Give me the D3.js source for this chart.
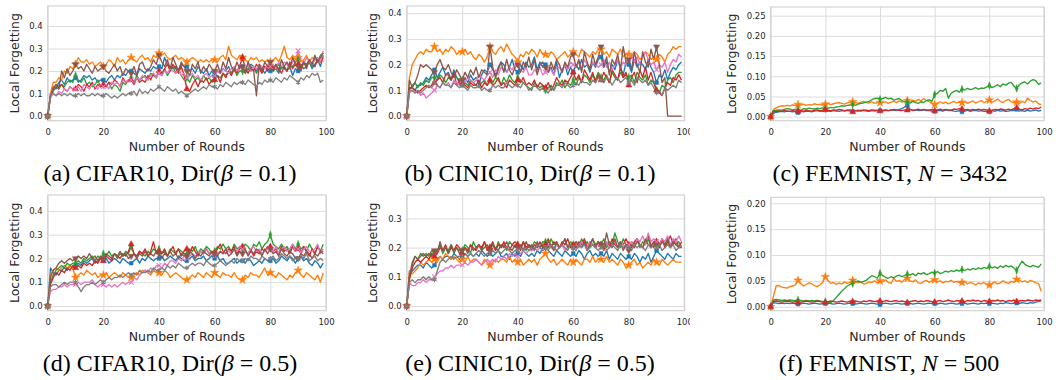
<!DOCTYPE html>
<html><head><meta charset="utf-8">
<script src="https://cdn.jsdelivr.net/npm/d3@7"></script>
<style>body{margin:0;background:#fff}svg{display:block}</style>
</head><body>
<svg id="c" width="1056" height="380"></svg>
<script>
// ---------------- DATA ----------------
const rounds = d3.range(0, 100);
const xTicks = [0, 20, 40, 60, 80, 100];
const yTicksCifar = [0, 0.1, 0.2, 0.3, 0.4];
const yTicksCinicB = [0, 0.1, 0.2, 0.3, 0.4];
const yTicksCinicE = [0, 0.1, 0.2, 0.3];
const yTicksFemC = [0, 0.05, 0.10, 0.15, 0.20, 0.25];
const yTicksFemF = [0, 0.05, 0.10, 0.15, 0.20];
const colors = {blue:"#1f77b4", orange:"#ff7f0e", green:"#2ca02c", red:"#d62728", pink:"#e377c2", brown:"#8c564b", gray:"#7f7f7f"};

// (a) CIFAR10 Dir 0.1
const a_blue = [0,.09,.13,.12,.15,.16,.14,.17,.15,.16, .17,.15,.16,.18,.17,.18,.16,.17,.15,.16, .16,.15,.17,.18,.16,.18,.17,.19,.18,.20, .20,.19,.18,.21,.20,.19,.21,.20,.22,.21, .22,.21,.26,.23,.22,.21,.22,.20,.23,.22, .22,.20,.21,.19,.22,.20,.19,.21,.18,.20, .18,.20,.19,.21,.20,.22,.19,.21,.20,.22, .22,.20,.21,.23,.22,.20,.22,.21,.19,.21, .20,.22,.21,.19,.22,.21,.20,.22,.18,.21, .20,.23,.21,.22,.24,.21,.23,.25,.22,.27];
const a_orange = [0,.10,.15,.15,.17,.16,.20,.19,.22,.21, .23,.26,.24,.24,.25,.23,.24,.22,.23,.24, .22,.23,.25,.24,.22,.26,.24,.25,.23,.25, .26,.25,.24,.26,.27,.25,.26,.24,.27,.26, .28,.27,.28,.26,.25,.26,.27,.25,.26,.25, .24,.25,.26,.25,.24,.25,.24,.25,.24,.25, .25,.24,.26,.27,.25,.31,.27,.26,.25,.27, .26,.25,.24,.26,.25,.26,.24,.25,.24,.25, .24,.25,.26,.24,.27,.31,.26,.25,.27,.25, .26,.24,.25,.27,.24,.26,.25,.24,.26,.24];
const a_green = [0,.08,.11,.13,.12,.14,.13,.15,.16,.15, .18,.16,.15,.17,.14,.15,.13,.14,.16,.13, .14,.13,.15,.12,.14,.13,.11,.15,.14,.16, .17,.15,.18,.16,.17,.18,.16,.19,.18,.17, .20,.19,.21,.18,.20,.22,.19,.21,.18,.16, .17,.15,.18,.16,.17,.15,.18,.16,.17,.15, .16,.18,.17,.19,.18,.20,.19,.21,.18,.20, .20,.19,.21,.20,.22,.19,.21,.20,.22,.21, .22,.20,.21,.23,.21,.22,.20,.23,.22,.24, .25,.22,.24,.23,.25,.22,.26,.24,.27,.28];
const a_red = [0,.09,.12,.14,.13,.14,.12,.11,.13,.12, .12,.14,.13,.11,.14,.13,.15,.12,.14,.13, .14,.13,.15,.14,.16,.15,.13,.17,.15,.16, .16,.14,.17,.15,.16,.15,.18,.16,.19,.17, .20,.18,.21,.23,.20,.23,.21,.19,.22,.18, .12,.11,.14,.16,.13,.16,.15,.17,.14,.16, .16,.18,.15,.19,.17,.20,.18,.21,.19,.22, .26,.21,.19,.22,.20,.23,.21,.19,.22,.20, .22,.20,.23,.21,.19,.22,.20,.24,.21,.23, .23,.21,.24,.22,.25,.23,.22,.25,.24,.26];
const a_pink = [0,.08,.10,.09,.11,.10,.12,.11,.13,.12, .12,.13,.11,.14,.13,.12,.14,.13,.12,.14, .13,.14,.12,.15,.14,.15,.13,.16,.15,.16, .16,.15,.17,.16,.18,.17,.16,.18,.19,.17, .19,.18,.20,.19,.21,.20,.19,.21,.18,.19, .17,.18,.19,.17,.18,.16,.18,.19,.17,.18, .18,.20,.19,.21,.20,.19,.21,.22,.20,.21, .22,.21,.23,.20,.22,.21,.23,.22,.21,.23, .22,.23,.21,.24,.22,.24,.23,.21,.24,.25, .29,.25,.23,.26,.24,.23,.25,.26,.24,.29];
const a_brown = [0,.09,.12,.14,.12,.20,.17,.21,.18,.20, .23,.21,.22,.20,.23,.21,.19,.22,.20,.21, .22,.20,.19,.21,.23,.20,.22,.18,.21,.20, .19,.22,.18,.23,.24,.21,.20,.22,.25,.23, .27,.24,.22,.25,.21,.26,.23,.20,.24,.22, .20,.18,.23,.21,.24,.19,.22,.20,.23,.21, .20,.23,.19,.24,.21,.26,.22,.20,.24,.21, .22,.19,.24,.21,.20,.09,.23,.20,.24,.22, .24,.21,.23,.20,.25,.22,.24,.21,.26,.23, .22,.20,.24,.21,.25,.23,.27,.24,.26,.28];
const a_gray = [0,.10,.10,.09,.10,.09,.10,.09,.10,.09, .09,.10,.09,.10,.09,.09,.10,.09,.10,.09, .09,.10,.09,.08,.09,.08,.09,.10,.09,.10, .10,.11,.09,.12,.10,.11,.10,.12,.11,.12, .13,.12,.11,.13,.12,.11,.12,.10,.11,.10, .09,.10,.11,.12,.11,.12,.13,.12,.14,.13, .13,.12,.14,.13,.15,.14,.13,.15,.14,.15, .15,.14,.16,.15,.14,.13,.15,.14,.16,.15, .16,.15,.17,.16,.15,.17,.16,.18,.17,.16, .15,.17,.16,.18,.17,.19,.18,.19,.15,.16];

// (b) CINIC10 Dir 0.1
const b_blue = [0,.11,.11,.10,.12,.12,.13,.15,.14,.16, .18,.15,.17,.19,.16,.17,.14,.18,.15,.13, .12,.15,.13,.16,.14,.15,.12,.16,.18,.17, .20,.18,.16,.19,.21,.20,.17,.19,.22,.18, .17,.20,.18,.21,.19,.20,.23,.18,.21,.19, .20,.17,.19,.16,.21,.15,.18,.20,.16,.19, .17,.20,.18,.22,.19,.20,.17,.21,.19,.22, .23,.19,.21,.17,.20,.18,.22,.19,.16,.21, .20,.17,.22,.19,.21,.20,.18,.22,.19,.17, .13,.16,.15,.18,.14,.17,.19,.18,.20,.21];
const b_orange = [0,.15,.20,.22,.24,.25,.24,.26,.25,.25, .27,.25,.26,.24,.26,.25,.27,.26,.24,.25, .25,.26,.24,.25,.23,.22,.24,.23,.21,.23, .27,.25,.24,.26,.27,.25,.28,.26,.24,.23, .21,.24,.23,.25,.24,.26,.25,.23,.26,.24, .24,.23,.25,.24,.22,.23,.24,.25,.23,.24, .25,.24,.23,.26,.25,.24,.23,.25,.24,.26, .26,.24,.25,.23,.26,.25,.24,.26,.23,.24, .24,.23,.25,.24,.22,.23,.25,.24,.22,.23, .22,.24,.23,.21,.24,.25,.27,.26,.27,.27];
const b_green = [0,.10,.12,.13,.11,.13,.12,.14,.13,.15, .15,.14,.16,.15,.13,.15,.14,.16,.15,.14, .14,.13,.12,.14,.13,.12,.11,.13,.14,.12, .14,.13,.15,.14,.12,.15,.13,.16,.14,.13, .15,.14,.13,.12,.11,.10,.13,.12,.11,.12, .10,.11,.12,.10,.13,.12,.14,.11,.13,.12, .14,.12,.15,.13,.16,.15,.13,.16,.14,.17, .15,.14,.16,.13,.17,.15,.14,.17,.15,.16, .15,.16,.13,.17,.15,.14,.16,.12,.14,.13, .10,.09,.12,.11,.14,.15,.13,.16,.17,.17];
const b_red = [0,.11,.11,.10,.09,.10,.11,.12,.11,.12, .13,.14,.15,.13,.16,.16,.14,.17,.12,.14, .13,.12,.11,.13,.12,.12,.14,.11,.13,.12, .14,.12,.13,.15,.12,.13,.11,.14,.13,.12, .14,.13,.15,.12,.13,.12,.14,.11,.13,.12, .11,.13,.10,.12,.15,.13,.12,.14,.13,.15, .17,.14,.16,.13,.18,.16,.14,.17,.13,.16, .14,.17,.15,.13,.18,.16,.14,.19,.15,.17, .12,.15,.17,.13,.18,.15,.19,.14,.17,.13, .10,.09,.08,.11,.13,.12,.15,.14,.16,.14];
const b_pink = [0,.09,.10,.09,.10,.08,.09,.07,.08,.09, .10,.12,.11,.13,.12,.13,.11,.14,.13,.12, .14,.13,.15,.14,.13,.14,.16,.15,.14,.16, .17,.15,.18,.16,.19,.18,.17,.19,.18,.20, .20,.18,.17,.19,.16,.16,.18,.17,.19,.16, .17,.19,.18,.16,.19,.19,.17,.20,.18,.21, .20,.19,.21,.18,.22,.20,.19,.21,.20,.19, .20,.22,.19,.21,.18,.20,.22,.19,.21,.20, .22,.24,.21,.23,.20,.23,.25,.22,.20,.21, .18,.20,.19,.21,.17,.20,.22,.21,.24,.23];
const b_brown = [0,.14,.11,.13,.16,.20,.19,.20,.19,.18, .17,.20,.22,.19,.18,.20,.17,.15,.18,.16, .14,.17,.15,.18,.16,.19,.15,.18,.17,.16, .27,.19,.15,.18,.21,.17,.22,.18,.16,.19, .20,.17,.21,.19,.23,.18,.22,.16,.20,.21, .19,.17,.21,.18,.22,.20,.17,.21,.19,.23, .24,.19,.22,.17,.25,.21,.18,.24,.20,.23, .27,.19,.23,.16,.22,.20,.24,.18,.27,.21, .22,.18,.25,.20,.17,.25,.21,.19,.26,.22, .27,.20,.13,.15,0,0,0,0,0,0];
const b_gray = [0,.10,.10,.09,.10,.09,.10,.11,.12,.11, .13,.12,.11,.13,.12,.12,.11,.13,.12,.11, .12,.11,.10,.12,.11,.11,.12,.10,.11,.10, .10,.12,.11,.12,.11,.11,.13,.12,.11,.12, .12,.11,.13,.12,.10,.11,.12,.11,.10,.11, .10,.09,.11,.10,.12,.12,.11,.13,.12,.11, .12,.13,.12,.14,.13,.13,.12,.14,.13,.15, .14,.13,.15,.14,.12,.14,.15,.13,.14,.15, .13,.14,.12,.15,.14,.13,.14,.12,.13,.11, .09,.10,.08,.11,.10,.11,.12,.11,.14,.13];

// (c) FEMNIST N=3432
const c_blue = [0,.008,.011,.012,.013,.012,.014,.013,.012,.013, .010,.013,.012,.014,.013,.012,.014,.015,.013,.014, .017,.014,.013,.015,.014,.013,.015,.014,.016,.014, .013,.015,.014,.016,.015,.014,.013,.015,.014,.016, .015,.014,.016,.015,.017,.016,.015,.018,.020,.024, .028,.018,.016,.017,.015,.016,.017,.015,.016,.014, .013,.015,.016,.014,.017,.015,.016,.014,.013,.015, .012,.014,.016,.013,.015,.016,.014,.015,.013,.014, .012,.015,.013,.016,.014,.015,.013,.014,.016,.015, .018,.014,.015,.013,.016,.014,.015,.017,.014,.016];
const c_orange = [0,.018,.022,.025,.027,.026,.028,.027,.029,.028, .030,.029,.031,.028,.030,.029,.032,.030,.031,.029, .031,.033,.030,.032,.034,.035,.033,.031,.034,.036, .037,.035,.033,.036,.038,.035,.034,.037,.033,.035, .035,.034,.037,.033,.036,.038,.035,.039,.036,.038, .040,.037,.041,.038,.043,.039,.045,.040,.037,.034, .030,.034,.037,.033,.036,.032,.035,.038,.034,.036, .035,.038,.033,.036,.039,.034,.037,.040,.035,.038, .041,.036,.039,.044,.038,.035,.040,.043,.037,.034, .036,.033,.038,.035,.046,.040,.036,.039,.032,.030];
const c_green = [0,.015,.016,.017,.016,.018,.020,.019,.017,.018, .018,.016,.020,.019,.021,.020,.019,.021,.020,.022, .020,.021,.023,.022,.024,.025,.027,.026,.028,.029, .030,.028,.031,.033,.034,.036,.038,.042,.045,.046, .043,.045,.048,.044,.046,.041,.043,.045,.040,.037, .036,.034,.038,.035,.033,.037,.035,.040,.042,.038, .055,.058,.065,.063,.070,.046,.058,.062,.065,.061, .068,.066,.070,.067,.069,.072,.068,.071,.070,.073, .077,.072,.075,.079,.074,.081,.078,.083,.085,.076, .070,.079,.084,.086,.081,.088,.092,.089,.080,.084];
const c_red = [0,.012,.013,.014,.013,.015,.014,.013,.015,.014, .013,.015,.014,.016,.015,.014,.016,.017,.015,.016, .017,.016,.015,.017,.016,.018,.017,.015,.016,.017, .012,.015,.016,.014,.017,.016,.015,.017,.016,.015, .014,.016,.017,.015,.016,.018,.017,.016,.015,.017, .016,.018,.015,.017,.019,.016,.018,.017,.016,.018, .015,.017,.019,.016,.018,.017,.016,.019,.018,.020, .019,.017,.018,.016,.018,.017,.019,.016,.018,.017, .014,.016,.018,.017,.019,.018,.016,.019,.017,.020, .022,.019,.017,.020,.018,.021,.019,.022,.020,.024];

// (d) CIFAR10 Dir 0.5
const d_blue = [0,.16,.14,.13,.15,.15,.16,.15,.17,.16, .17,.18,.17,.19,.18,.19,.20,.18,.19,.20, .19,.20,.18,.19,.20,.19,.18,.20,.19,.18, .18,.19,.20,.18,.20,.19,.21,.20,.19,.20, .20,.21,.19,.20,.21,.20,.19,.21,.20,.19, .19,.20,.21,.19,.20,.20,.21,.19,.20,.21, .20,.21,.19,.20,.18,.18,.19,.20,.18,.19, .19,.18,.20,.19,.17,.18,.19,.18,.20,.19, .19,.20,.18,.19,.21,.20,.19,.21,.20,.18, .20,.21,.19,.20,.18,.17,.19,.18,.16,.18];
const d_orange = [0,.13,.15,.16,.15,.16,.17,.16,.17,.16, .12,.13,.14,.13,.15,.14,.13,.14,.12,.13, .13,.14,.12,.13,.14,.13,.12,.14,.13,.12, .12,.13,.14,.13,.15,.15,.14,.13,.15,.14, .14,.13,.15,.14,.12,.13,.14,.13,.12,.11, .11,.12,.13,.12,.14,.13,.12,.14,.13,.12, .14,.13,.12,.14,.13,.13,.12,.14,.12,.11, .11,.13,.12,.14,.13,.13,.12,.14,.16,.13, .14,.13,.12,.14,.13,.12,.11,.13,.12,.14, .15,.13,.12,.14,.13,.12,.11,.13,.10,.14];
const d_green = [0,.10,.13,.15,.16,.17,.16,.18,.17,.18, .18,.19,.18,.20,.19,.20,.21,.19,.21,.20, .22,.21,.23,.21,.22,.20,.22,.21,.23,.22, .25,.22,.21,.23,.22,.21,.23,.22,.24,.23, .24,.22,.23,.21,.24,.23,.22,.24,.23,.22, .22,.24,.23,.25,.22,.24,.23,.25,.24,.22, .23,.25,.24,.26,.24,.25,.23,.26,.24,.25, .24,.26,.25,.23,.26,.25,.27,.24,.26,.27, .30,.26,.25,.24,.26,.24,.25,.23,.26,.24, .26,.24,.25,.23,.26,.24,.22,.25,.23,.26];
const d_red = [0,.09,.12,.14,.13,.15,.14,.16,.15,.17, .16,.17,.16,.18,.17,.18,.17,.19,.18,.20, .19,.21,.20,.19,.22,.21,.20,.22,.21,.23, .26,.22,.21,.23,.22,.24,.21,.23,.27,.22, .23,.22,.24,.21,.23,.25,.22,.24,.21,.23, .24,.22,.25,.23,.21,.23,.22,.24,.22,.23, .22,.24,.26,.23,.22,.24,.23,.25,.22,.24, .25,.23,.22,.24,.21,.23,.22,.24,.23,.25, .25,.23,.24,.22,.25,.23,.24,.22,.25,.23, .24,.22,.25,.23,.21,.24,.22,.25,.23,.23];
const d_pink = [0,.06,.07,.07,.08,.08,.09,.08,.09,.09, .09,.10,.09,.10,.10,.10,.11,.09,.08,.09, .09,.08,.09,.08,.09,.08,.09,.10,.09,.10, .10,.12,.11,.13,.14,.15,.14,.16,.15,.17, .17,.16,.18,.17,.19,.19,.18,.20,.19,.21, .20,.21,.22,.21,.22,.23,.22,.24,.22,.23, .21,.22,.23,.22,.24,.23,.22,.24,.23,.25, .24,.23,.22,.24,.25,.23,.24,.22,.23,.24, .24,.23,.25,.22,.24,.25,.23,.24,.26,.23, .24,.22,.24,.25,.23,.23,.24,.26,.22,.24];
const d_brown = [0,.12,.15,.16,.18,.19,.18,.19,.20,.19, .20,.21,.20,.21,.20,.22,.20,.21,.19,.21, .20,.22,.21,.20,.22,.21,.23,.21,.22,.20, .21,.22,.20,.22,.21,.23,.21,.22,.21,.23, .22,.20,.22,.21,.23,.21,.22,.20,.22,.21, .21,.23,.22,.20,.22,.21,.23,.22,.21,.23, .22,.21,.23,.22,.24,.21,.22,.24,.21,.23, .22,.24,.21,.23,.22,.24,.23,.21,.24,.22, .24,.22,.23,.21,.24,.22,.21,.23,.22,.20, .20,.22,.21,.23,.22,.20,.22,.21,.23,.22];
const d_gray = [0,.08,.09,.09,.08,.09,.10,.09,.10,.10, .10,.08,.06,.08,.09,.09,.10,.09,.10,.11, .10,.11,.12,.11,.12,.12,.13,.12,.13,.14, .13,.14,.13,.15,.14,.14,.15,.14,.16,.15, .15,.16,.15,.17,.16,.17,.16,.18,.17,.16, .16,.17,.18,.17,.18,.18,.17,.19,.18,.17, .17,.18,.19,.18,.17,.18,.19,.18,.20,.19, .19,.20,.19,.21,.20,.20,.19,.21,.20,.19, .20,.21,.19,.20,.22,.21,.20,.21,.19,.20, .20,.21,.20,.22,.19,.20,.21,.19,.20,.19];

// (e) CINIC10 Dir 0.5
const e_blue = [0,.12,.12,.13,.14,.14,.13,.15,.14,.13, .14,.16,.17,.16,.17,.17,.16,.18,.17,.16, .17,.18,.17,.18,.17,.18,.17,.19,.18,.17, .18,.17,.18,.19,.17,.17,.18,.16,.18,.17, .18,.17,.19,.18,.17,.18,.17,.19,.18,.20, .21,.19,.18,.17,.19,.18,.17,.19,.18,.17, .18,.17,.19,.18,.16,.18,.19,.17,.18,.17, .18,.17,.19,.16,.18,.17,.16,.18,.17,.16, .17,.16,.18,.17,.15,.17,.16,.18,.15,.17, .19,.18,.17,.16,.18,.17,.16,.18,.17,.17];
const e_orange = [0,.12,.11,.12,.13,.15,.14,.15,.16,.15, .16,.15,.17,.16,.18,.17,.16,.17,.16,.15, .16,.15,.17,.15,.16,.16,.15,.14,.16,.15, .14,.15,.16,.15,.16,.16,.15,.17,.15,.16, .15,.16,.14,.15,.16,.15,.16,.14,.16,.17, .18,.16,.15,.16,.14,.15,.16,.15,.14,.16, .15,.16,.15,.14,.16,.16,.15,.17,.15,.16, .16,.15,.17,.15,.16,.15,.14,.16,.15,.13, .14,.15,.16,.14,.15,.13,.14,.15,.14,.16, .15,.14,.16,.15,.14,.15,.16,.15,.15,.15];
const e_green = [0,.10,.14,.17,.16,.18,.17,.18,.17,.19, .18,.19,.21,.18,.20,.19,.21,.18,.20,.19, .19,.21,.20,.18,.22,.20,.21,.19,.22,.20, .20,.21,.19,.22,.20,.21,.19,.22,.21,.20, .21,.20,.22,.19,.21,.20,.22,.21,.20,.22, .22,.20,.23,.21,.22,.20,.21,.23,.20,.22, .21,.22,.20,.23,.21,.22,.20,.23,.21,.22, .21,.23,.20,.22,.21,.25,.22,.20,.23,.21, .20,.22,.21,.23,.20,.22,.21,.23,.20,.22, .22,.20,.23,.21,.22,.20,.23,.21,.22,.20];
const e_red = [0,.09,.13,.15,.16,.15,.16,.17,.16,.18, .17,.18,.20,.19,.21,.18,.20,.19,.21,.20, .18,.20,.19,.21,.20,.19,.21,.20,.22,.19, .20,.22,.19,.21,.20,.22,.20,.19,.21,.22, .21,.19,.22,.20,.21,.19,.21,.20,.22,.20, .21,.23,.20,.22,.21,.20,.22,.21,.23,.20, .21,.20,.22,.21,.23,.20,.22,.21,.20,.22, .21,.19,.22,.20,.23,.21,.20,.22,.21,.23, .21,.20,.22,.23,.21,.20,.22,.24,.21,.20, .22,.21,.23,.20,.22,.24,.21,.23,.20,.22];
const e_pink = [0,.08,.07,.07,.08,.08,.09,.08,.09,.09, .10,.11,.12,.12,.13,.13,.14,.13,.14,.14, .14,.15,.14,.15,.15,.16,.15,.14,.15,.16, .15,.16,.15,.17,.16,.17,.16,.18,.17,.18, .17,.18,.19,.18,.19,.19,.20,.19,.20,.19, .20,.21,.20,.19,.21,.20,.21,.19,.20,.21, .20,.21,.20,.22,.21,.20,.22,.21,.20,.22, .20,.21,.22,.20,.21,.22,.20,.22,.21,.20, .21,.22,.20,.23,.22,.24,.21,.25,.22,.23, .22,.21,.23,.22,.24,.21,.23,.22,.24,.22];
const e_brown = [0,.10,.15,.17,.16,.17,.18,.17,.18,.17, .19,.18,.22,.19,.20,.18,.21,.19,.20,.18, .19,.20,.18,.21,.19,.20,.21,.19,.20,.21, .19,.21,.20,.19,.21,.20,.22,.20,.19,.21, .20,.21,.19,.22,.20,.21,.19,.22,.20,.21, .20,.22,.21,.19,.22,.20,.21,.23,.20,.21, .20,.22,.21,.20,.22,.19,.21,.23,.20,.22, .21,.20,.25,.21,.20,.23,.20,.22,.19,.21, .19,.21,.20,.22,.21,.20,.23,.21,.20,.22, .21,.20,.22,.21,.23,.20,.22,.21,.20,.20];
const e_gray = [0,.08,.09,.08,.09,.09,.10,.09,.10,.09, .09,.12,.15,.16,.15,.16,.17,.16,.17,.17, .17,.18,.17,.18,.17,.18,.19,.18,.17,.18, .18,.19,.18,.19,.18,.19,.20,.19,.18,.19, .19,.20,.19,.20,.19,.20,.19,.21,.20,.19, .20,.19,.21,.20,.19,.20,.21,.20,.19,.21, .20,.19,.21,.20,.21,.19,.20,.21,.20,.19, .20,.21,.19,.20,.21,.20,.19,.21,.20,.21, .20,.19,.21,.20,.21,.20,.19,.21,.20,.21, .20,.21,.19,.20,.21,.20,.21,.19,.20,.21];

// (f) FEMNIST N=500
const f_blue = [0,.008,.007,.006,.007,.006,.007,.006,.007,.006, .005,.006,.007,.006,.005,.006,.007,.006,.005,.006, .006,.007,.006,.005,.006,.007,.006,.005,.006,.007, .006,.005,.006,.007,.006,.005,.006,.007,.006,.005, .004,.006,.007,.006,.005,.006,.007,.006,.005,.006, .006,.007,.005,.006,.007,.006,.005,.006,.007,.006, .006,.005,.007,.006,.005,.006,.007,.006,.005,.006, .006,.007,.005,.006,.007,.006,.005,.007,.006,.007, .006,.007,.006,.005,.007,.006,.008,.007,.006,.007, .007,.006,.008,.007,.006,.008,.007,.009,.010,.012];
const f_orange = [0,.020,.040,.041,.038,.037,.036,.039,.040,.042, .051,.045,.040,.043,.046,.044,.041,.039,.042,.047, .058,.050,.045,.047,.043,.046,.044,.048,.045,.047, .051,.049,.046,.048,.044,.045,.048,.047,.050,.046, .050,.048,.052,.047,.045,.055,.049,.051,.047,.053, .055,.050,.048,.052,.046,.045,.049,.051,.047,.050, .052,.048,.050,.046,.049,.048,.051,.047,.049,.046, .047,.049,.044,.047,.045,.042,.046,.044,.047,.043, .042,.045,.048,.044,.046,.050,.047,.045,.049,.047, .053,.051,.048,.050,.047,.051,.049,.046,.045,.030];
const f_green = [0,.013,.014,.013,.012,.013,.012,.013,.012,.012, .013,.012,.011,.012,.011,.012,.011,.012,.011,.010, .010,.009,.008,.012,.018,.024,.030,.035,.040,.043, .045,.048,.050,.047,.049,.051,.056,.060,.058,.055, .065,.060,.057,.055,.058,.056,.059,.061,.058,.060, .063,.061,.064,.060,.065,.063,.066,.062,.064,.067, .065,.068,.064,.066,.069,.067,.070,.068,.071,.069, .072,.070,.073,.071,.074,.072,.075,.073,.076,.074, .078,.075,.077,.074,.079,.076,.080,.077,.079,.075, .070,.080,.088,.082,.079,.077,.080,.078,.076,.083];
const f_red = [0,.010,.011,.010,.009,.010,.011,.010,.009,.010, .008,.009,.010,.011,.010,.009,.010,.011,.010,.009, .008,.010,.011,.010,.009,.010,.011,.010,.009,.011, .010,.011,.010,.009,.011,.010,.012,.011,.010,.011, .011,.010,.012,.011,.010,.011,.012,.010,.011,.010, .008,.010,.011,.012,.010,.011,.010,.012,.011,.010, .009,.011,.012,.010,.011,.013,.011,.010,.012,.011, .011,.010,.012,.011,.013,.011,.012,.010,.012,.011, .010,.012,.011,.013,.011,.012,.010,.012,.011,.013, .010,.011,.012,.011,.013,.012,.011,.013,.012,.013];

// ---------------- LAYOUT ----------------
const panels = [
  {key:"a", series:{blue:a_blue,orange:a_orange,green:a_green,red:a_red,pink:a_pink,brown:a_brown,gray:a_gray},
   yDomain:[-0.021,0.489], yTicks:yTicksCifar, fmt:".1f", x0:47.7, x1:326, y0:6, y1:120.7, ylabX:15, capX:170,
   cap:["(a) CIFAR10, Dir(", "β", " = 0.1)"]},
  {key:"b", series:{blue:b_blue,orange:b_orange,green:b_green,red:b_red,pink:b_pink,brown:b_brown,gray:b_gray},
   yDomain:[-0.018,0.428], yTicks:yTicksCinicB, fmt:".1f", x0:406.7, x1:684.3, y0:6, y1:120.7, ylabX:373, capX:530,
   cap:["(b) CINIC10, Dir(", "β", " = 0.1)"], clip:[345,690]},
  {key:"c", series:{blue:c_blue,orange:c_orange,green:c_green,red:c_red},
   yDomain:[-0.0099,0.2715], yTicks:yTicksFemC, fmt:".2f", x0:770.7, x1:1044, y0:7, y1:120.7, ylabX:732, capX:890,
   cap:["(c) FEMNIST, ", "N", " = 3432"]},
  {key:"d", series:{blue:d_blue,orange:d_orange,green:d_green,red:d_red,pink:d_pink,brown:d_brown,gray:d_gray},
   yDomain:[-0.02,0.467], yTicks:yTicksCifar, fmt:".1f", x0:47.7, x1:326, y0:195, y1:310.7, ylabX:15, capX:170,
   cap:["(d) CIFAR10, Dir(", "β", " = 0.5)"]},
  {key:"e", series:{blue:e_blue,orange:e_orange,green:e_green,red:e_red,pink:e_pink,brown:e_brown,gray:e_gray},
   yDomain:[-0.016,0.38], yTicks:yTicksCinicE, fmt:".1f", x0:406.7, x1:684.3, y0:195, y1:310.7, ylabX:373, capX:530,
   cap:["(e) CINIC10, Dir(", "β", " = 0.5)"], clip:[345,690]},
  {key:"f", series:{blue:f_blue,orange:f_orange,green:f_green,red:f_red},
   yDomain:[-0.0077,0.2116], yTicks:yTicksFemF, fmt:".2f", x0:770.7, x1:1044, y0:197.3, y1:310.7, ylabX:732, capX:889,
   cap:["(f) FEMNIST, ", "N", " = 500"]}
];

const markers = {
  blue:{type:d3.symbolSquare, size:14, fill:true},
  orange:{type:d3.symbolStar, size:22, fill:true},
  green:{type:d3.symbolDiamond, size:18, fill:true, sx:0.65},
  red:{type:d3.symbolTriangle, size:16, fill:true},
  pink:{type:d3.symbolTimes || d3.symbolCross, size:16, fill:false, rot:d3.symbolTimes?0:45},
  brown:{type:d3.symbolTriangle, size:16, fill:true, rot:180},
  gray:{type:d3.symbolAsterisk || d3.symbolCross, size:16, fill:false}
};

const svg = d3.select("#c");
const defs = svg.append("defs");
const TXT = "#262626";
const SANS = "'DejaVu Sans', sans-serif";

panels.forEach(p => {
  let g = svg.append("g");
  if (p.clip) {
    defs.append("clipPath").attr("id","clip-"+p.key).append("rect")
      .attr("x",p.clip[0]).attr("y",p.y0-10).attr("width",p.clip[1]-p.clip[0]).attr("height",200);
    g.attr("clip-path","url(#clip-"+p.key+")");
  }
  const x = d3.scaleLinear().domain([0,100]).range([p.x0,p.x1]);
  const y = d3.scaleLinear().domain(p.yDomain).range([p.y1,p.y0]);

  const xg = g.append("g").attr("transform",`translate(0,${p.y1})`)
    .call(d3.axisBottom(x).tickValues(xTicks).tickSize(-(p.y1-p.y0)).tickFormat(d3.format("d")).tickPadding(8.5));
  xg.select(".domain").remove();
  xg.selectAll("line").attr("stroke","#dcdcdc").attr("stroke-width",1);
  xg.selectAll("text").attr("fill",TXT).style("font-family",SANS).style("font-size","8.5px");

  const yg = g.append("g").attr("transform",`translate(${p.x0},0)`)
    .call(d3.axisLeft(y).tickValues(p.yTicks).tickSize(-(p.x1-p.x0)).tickFormat(d3.format(p.fmt)).tickPadding(5));
  yg.select(".domain").remove();
  yg.selectAll("line").attr("stroke","#dcdcdc").attr("stroke-width",1);
  yg.selectAll("text").attr("fill",TXT).style("font-family",SANS).style("font-size","8.5px");

  g.append("rect").attr("x",p.x0).attr("y",p.y0).attr("width",p.x1-p.x0).attr("height",p.y1-p.y0)
    .attr("fill","none").attr("stroke","#cfcfcf").attr("stroke-width",1.1);

  const line = d3.line().x((d,i)=>x(rounds[i])).y(d=>y(d));
  Object.entries(p.series).forEach(([name, vals]) => {
    g.append("path").datum(vals).attr("d",line).attr("fill","none")
      .attr("stroke",colors[name]).attr("stroke-width",1.35).attr("stroke-linejoin","round");
  });
  Object.entries(p.series).forEach(([name, vals]) => {
    const m = markers[name];
    const sym = d3.symbol().type(m.type).size(m.size);
    g.selectAll(null).data(rounds.filter(r => r % 10 === 0)).join("path")
      .attr("d", sym)
      .attr("transform", r => `translate(${x(r)},${y(vals[r])}) rotate(${m.rot||0}) scale(${m.sx||1},1)`)
      .attr("fill", m.fill ? colors[name] : "none")
      .attr("stroke", colors[name]).attr("stroke-width", m.fill ? 0.5 : 1.1);
  });

  g.append("text").attr("x",(p.x0+p.x1)/2).attr("y",p.y1+30).attr("text-anchor","middle")
    .attr("fill",TXT).style("font-family",SANS).style("font-size","12.5px").text("Number of Rounds");
  g.append("text").attr("transform",`translate(${p.ylabX},${(p.y0+p.y1)/2}) rotate(-90)`)
    .attr("text-anchor","middle").attr("dy","0.35em")
    .attr("fill",TXT).style("font-family",SANS).style("font-size","12.5px").text("Local Forgetting");

  const cap = svg.append("text").attr("x",p.capX).attr("y",p.y1+60).attr("text-anchor","middle")
    .attr("fill","#000").style("font-family","'Liberation Serif', 'Times New Roman', serif")
    .style("font-size","24px").style("white-space","pre");
  cap.append("tspan").text(p.cap[0]);
  cap.append("tspan").style("font-style","italic").text(p.cap[1]);
  cap.append("tspan").text(p.cap[2]);
});
</script>
</body></html>
